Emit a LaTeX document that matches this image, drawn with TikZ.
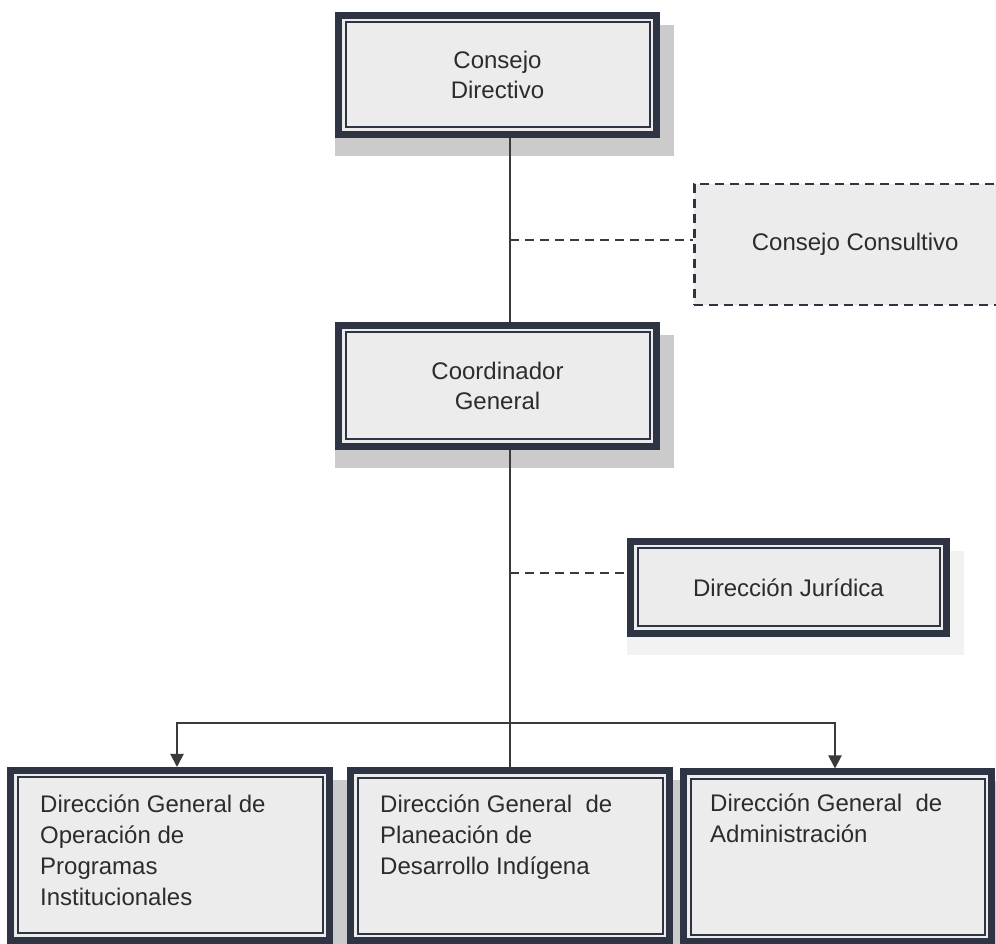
\documentclass[tikz,border=0pt]{standalone}
\usepackage{fontspec}
\setmainfont{Liberation Sans}
\usetikzlibrary{arrows.meta,backgrounds}
\definecolor{boxc}{HTML}{2E3444}
\definecolor{fillc}{HTML}{ECECEC}
\definecolor{shadowc}{HTML}{CBCBCB}
\definecolor{faintshadow}{HTML}{F2F2F2}
\definecolor{txtc}{HTML}{2C2C2C}
\definecolor{linec}{HTML}{3A3A3A}
\begin{document}
\begin{tikzpicture}[x=1pt,y=1pt,
  box/.style={draw=boxc, line width=7pt, fill=fillc, text=txtc, inner sep=0pt,
    font=\fontsize{24}{30}\selectfont, align=center},
  dbox/.style={draw=boxc, line width=2.5pt, dash pattern=on 9pt off 6pt, fill=fillc,
    text=txtc, inner sep=0pt, font=\fontsize{24}{30}\selectfont},
  innerline/.style={draw=boxc, line width=2pt},
  lbl/.style={text=txtc, inner sep=0pt, font=\fontsize{24}{31}\selectfont},
  conn/.style={draw=linec, line width=2pt},
  dconn/.style={draw=linec, line width=2.5pt, dash pattern=on 9pt off 6pt},
  tip/.style={-{Triangle[length=13pt,width=13pt]}}]
\useasboundingbox (0,0) rectangle (996,944);

\node[box, minimum width=318pt, minimum height=119pt] (cd) at (497.5,869) {Consejo\\Directivo};
\node[dbox, minimum width=322pt, minimum height=121pt] (cc) at (855.25,699.5) {Consejo Consultivo};
\node[box, minimum width=318pt, minimum height=121pt] (cg) at (497.5,558) {Coordinador\\General};
\node[box, minimum width=316pt, minimum height=92pt] (dj) at (788.5,356.5) {Dirección Jurídica};
\node[box, minimum width=319pt, minimum height=170pt] (b1) at (170,88.5) {};
\node[box, minimum width=319pt, minimum height=170pt] (b2) at (510,88) {};
\node[box, minimum width=308pt, minimum height=170pt] (b3) at (837.5,87) {};

\begin{scope}[on background layer]
\fill[white] (0,0) rectangle (996,944);
\fill[faintshadow] ([yshift=-13pt]dj.north west) rectangle ([shift={(14pt,-18pt)}]dj.south east);
\foreach \n in {cd,cg,b1,b2,b3}
  \fill[shadowc] ([yshift=-13pt]\n.north west) rectangle ([shift={(14pt,-18pt)}]\n.south east);
\end{scope}

\foreach \n in {cd,cg,dj,b1,b2,b3}
  \draw[innerline] ([shift={(10.5pt,-10.5pt)}]\n.north west) rectangle ([shift={(-10.5pt,10.5pt)}]\n.south east);

\node[lbl, anchor=base west] (t1) at (40,131) {\begin{tabular}[t]{@{}l@{}}Dirección General de\\Operación de\\Programas\\Institucionales\end{tabular}};
\node[lbl, anchor=base west] (t2) at (380,131) {\begin{tabular}[t]{@{}l@{}}Dirección General\ \ de\\Planeación de\\Desarrollo Indígena\end{tabular}};
\node[lbl, anchor=base west] (t3) at (710,132) {\begin{tabular}[t]{@{}l@{}}Dirección General\ \ de\\Administración\end{tabular}};

\coordinate (ccx) at ([yshift=4.5pt]cc.west);
\coordinate (djx) at ([yshift=14.5pt]dj.west);
\coordinate (bus) at (510,221);

\draw[conn] (b2.north |- cd.south) -- (b2.north |- cg.north);
\draw[conn] (b2.north |- cg.south) -- (b2.north);
\draw[dconn] (b2.north |- ccx) -- (ccx);
\draw[dconn] (b2.north |- djx) -- (djx);
\draw[conn, tip] (bus) -| ([xshift=7pt]b1.north);
\draw[conn, tip] (bus) -| ([xshift=-2.5pt]b3.north);
\end{tikzpicture}
\end{document}
